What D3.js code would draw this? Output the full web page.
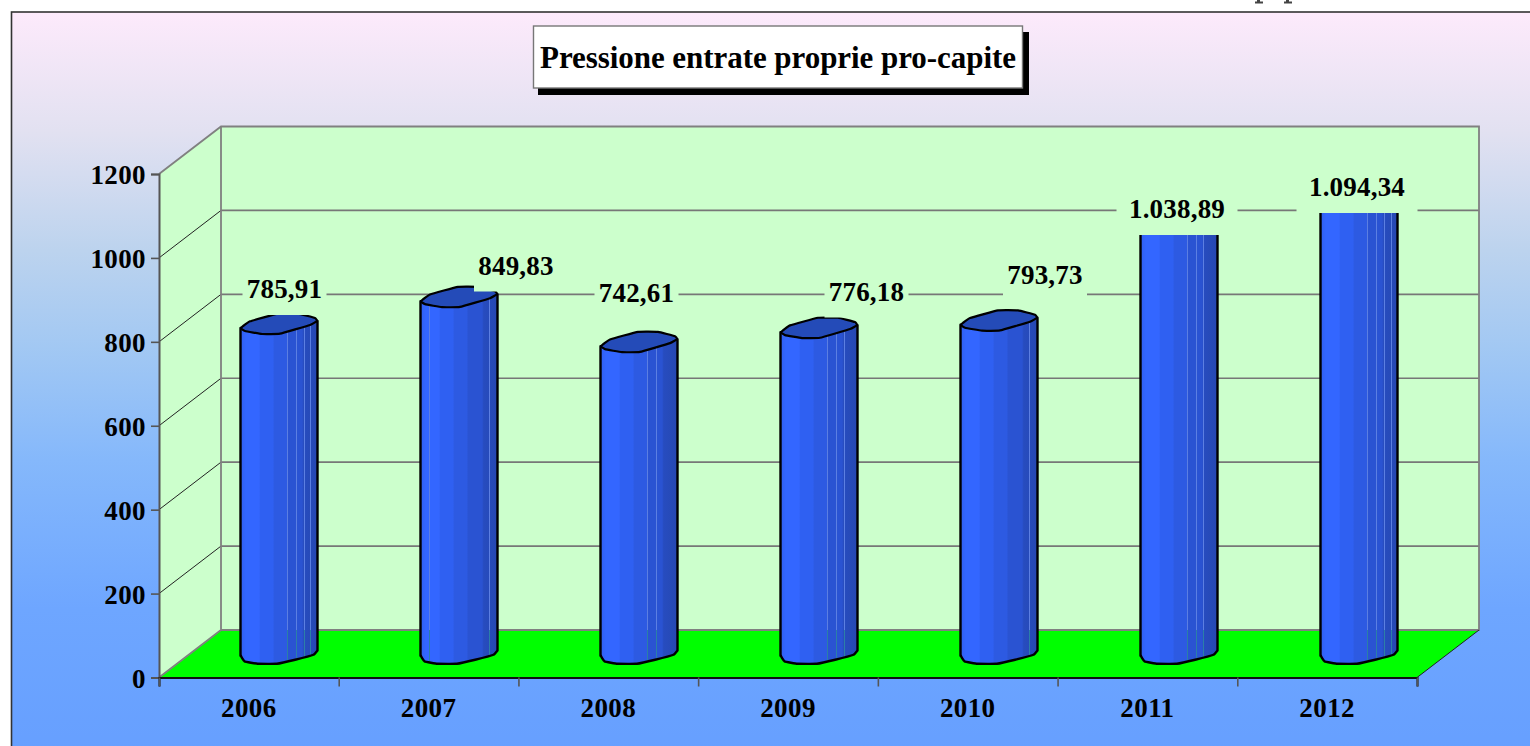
<!DOCTYPE html>
<html><head><meta charset="utf-8">
<script src="https://cdn.jsdelivr.net/npm/d3@7"></script>
<style>html,body{margin:0;padding:0;background:#fff;overflow:hidden}svg{display:block}
text{font-family:"Liberation Serif",serif;font-weight:700;fill:#000}</style></head>
<body><div id="c"></div>
<script>
const years = ["2006","2007","2008","2009","2010","2011","2012"];
const values = [785.91,849.83,742.61,776.18,793.73,1038.89,1094.34];
const valueLabels = ["785,91","849,83","742,61","776,18","793,73","1.038,89","1.094,34"];
const yTicks = [0,200,400,600,800,1000,1200];
const titleText = "Pressione entrate proprie pro-capite";
// label placement and seam styling (pixels, not data)
const labelCenters = [284.5,516,636.5,866.5,1045,1177,1357];
const labelBaselines = [298,274.5,301.5,300.5,284,218,196];
const barSeams = [[47,56,64,70],[9,69],[47,56],[47,56,64],[69],[47,56,63],[47,56,64,71]];
const capShape = [[-38,4],[-29,-2.7],[-1,-10.3],[19,-10.3],[36,-6],[38,-3],[31,1],[1,9.7],[-17,10],[-34,7]];
const baseShape = [[-38,2],[-34,7.7],[-21,10],[-2,10],[16,6],[34,1],[38,-3.3]];

const W=1530,H=746, dx=62, dy=-47.5;
const svg=d3.select("#c").append("svg").attr("width",W).attr("height",H);
const defs=svg.append("defs");

const bg=defs.append("linearGradient").attr("id","bg").attr("x1",0).attr("x2",0).attr("y1",0).attr("y2",1);
[[0,"#fdeafb"],[.16,"#e2e1f1"],[.32,"#bcd3ee"],[.45,"#a2c8f3"],[.6,"#85b8fb"],[.8,"#6ea6ff"],[1,"#669fff"]]
  .forEach(s=>bg.append("stop").attr("offset",s[0]).attr("stop-color",s[1]));
const barG=defs.append("linearGradient").attr("id","bar");
[[0,"#2f5ff0"],[.07,"#3366ff"],[.24,"#3366ff"],[.26,"#2f60f2"],[.42,"#2f60f2"],[.44,"#2d5ae2"],[.6,"#2d5ae2"],[.62,"#2a53d2"],[.8,"#2a53d2"],[.82,"#274cbf"],[1,"#2648b2"]]
  .forEach(s=>barG.append("stop").attr("offset",s[0]).attr("stop-color",s[1]));

svg.append("rect").attr("x",11.5).attr("y",12).attr("width",W).attr("height",H)
  .attr("fill","url(#bg)").attr("stroke","#333").attr("stroke-width",1.6);
// remains of a cropped heading above the frame: too little of it shows to be read
svg.selectAll("path.crop").data([1255,1284]).join("path").attr("class","crop")
  .attr("fill","#444").attr("d",d=>`M${d},1.5H${d+2}V0H${d+5}V1.5H${d+8}V3.5H${d}Z`);

const x=d3.scaleBand().domain(years).range([159,1417]).paddingInner(0).paddingOuter(0);
const xEdge=d3.scaleLinear().domain([0,years.length]).range([159,1417]);
const barX=d3.scalePoint().domain(years).range([279,1359]);
const y=d3.scaleLinear().domain([0,1200]).range([677.5,174]);
const x0=159,x1=1417,yB=y(0),yT=y(1200);

// walls
svg.append("polygon").attr("fill","#ccffcc")
  .attr("points",[[x0,yT],[x0+dx,yT+dy],[x1+dx,yT+dy],[x1+dx,yB+dy],[x0+dx,yB+dy],[x0,yB]].join(" "));
// gridlines
yTicks.filter(t=>t>0&&t<1200).forEach(t=>{
  svg.append("line").attr("x1",x0).attr("y1",y(t)).attr("x2",x0+dx).attr("y2",y(t)+dy).attr("stroke","#222").attr("stroke-width",1);
  svg.append("line").attr("x1",x0+dx).attr("y1",y(t)+dy).attr("x2",x1+dx).attr("y2",y(t)+dy).attr("stroke","#777").attr("stroke-width",1.6);
});
// floor
svg.append("polygon").attr("fill","#00ff00")
  .attr("points",[[x0,yB],[x0+dx,yB+dy],[x1+dx,yB+dy],[x1,yB]].join(" "));
// wall borders
svg.append("path").attr("fill","none").attr("stroke","#808080").attr("stroke-width",1.8)
  .attr("d",`M${x0},${yT}L${x0+dx},${yT+dy}H${x1+dx}V${yB+dy}H${x0+dx}V${yT+dy}M${x0+dx},${yB+dy}L${x0},${yB}`);
svg.append("line").attr("x1",x1).attr("y1",yB).attr("x2",x1+dx).attr("y2",yB+dy).attr("stroke","#222").attr("stroke-width",1);

// bars
const capLine=d3.line().curve(d3.curveCardinalClosed.tension(.7));
const midDy=dy/2;
const floorBackY=yB+dy;
years.forEach((yr,i)=>{
  const cx=barX(yr), top=y(values[i])+midDy, base=yB+midDy, hw=38.5;
  const baseCurve=d3.line().curve(d3.curveCardinal.tension(.7))(baseShape.map(p=>[cx+p[0]*hw/38,base+p[1]]));
  const body=`M${cx-hw},${top+4}L${cx-hw},${base+2}`+baseCurve.replace(/^M[^CL]*/,"L"+(cx-hw+.5)+","+(base+2))+`L${cx+hw},${top-3}Z`;
  const g=svg.append("g").attr("class","bar");
  defs.append("clipPath").attr("id","clip"+i).append("path").attr("d",body);
  g.append("path").attr("d",body).attr("fill","url(#bar)");
  const seams=g.append("g").attr("clip-path",`url(#clip${i})`);
  barSeams[i].forEach(s=>{
    const sx=cx-hw+s;
    seams.append("line").attr("x1",sx).attr("x2",sx).attr("y1",top).attr("y2",floorBackY).attr("stroke","#5c7fe2").attr("stroke-width",1);
    seams.append("line").attr("x1",sx).attr("x2",sx).attr("y1",floorBackY).attr("y2",base+12).attr("stroke","#2b7fa8").attr("stroke-width",1);
  });
  g.append("path").attr("d",body).attr("fill","none").attr("stroke","#000").attr("stroke-width",2.4).attr("stroke-linejoin","round");
  g.append("path").attr("d",capLine(capShape.map(p=>[cx+p[0],top+p[1]]))).attr("fill","#244bb8").attr("stroke","#000").attr("stroke-width",2.2);
});

// axes
const yAxis=d3.axisLeft(y).tickValues(yTicks).tickSize(8).tickPadding(5).tickFormat(d3.format("d"));
const gy=svg.append("g").attr("transform",`translate(${x0},0)`).call(yAxis);
gy.selectAll("path").attr("stroke","#555").attr("stroke-width",2);
gy.selectAll("line").attr("stroke","#555").attr("stroke-width",1.6);
gy.selectAll("text").attr("font-size",27).attr("letter-spacing",.4).attr("dy",null).attr("y",9.5);

const gxTicks=svg.append("g").attr("transform",`translate(0,${yB})`)
  .call(d3.axisBottom(xEdge).ticks(years.length).tickSize(9).tickFormat(""));
gxTicks.selectAll("path").attr("stroke","#111").attr("stroke-width",2);
gxTicks.selectAll("line").attr("stroke","#555").attr("stroke-width",1.6);
const gx=svg.append("g").attr("transform",`translate(0,${yB})`)
  .call(d3.axisBottom(x).tickSize(0).tickPadding(0));
gx.select("path").remove();
gx.selectAll("text").attr("font-size",27).attr("letter-spacing",.4).attr("dy",null).attr("y",39.5);

// value labels with wall-coloured backing
valueLabels.forEach((t,i)=>{
  const w=t.length>6?121:84, b=labelBaselines[i];
  svg.append("rect").attr("x",labelCenters[i]-w/2).attr("y",b-27).attr("width",w).attr("height",44).attr("fill","#ccffcc");
  svg.append("text").attr("x",labelCenters[i]).attr("y",b).attr("text-anchor","middle").attr("font-size",27).attr("letter-spacing",.2).text(t);
});

// title
svg.append("rect").attr("x",538).attr("y",32).attr("width",491).attr("height",63).attr("fill","#000");
svg.append("rect").attr("x",533.5).attr("y",26).attr("width",489).attr("height",62).attr("fill","#fff").attr("stroke","#777").attr("stroke-width",1.4);
svg.append("text").attr("x",540).attr("y",68).attr("font-size",31)
  .attr("textLength",476).attr("lengthAdjust","spacing").text(titleText);
</script></body></html>
